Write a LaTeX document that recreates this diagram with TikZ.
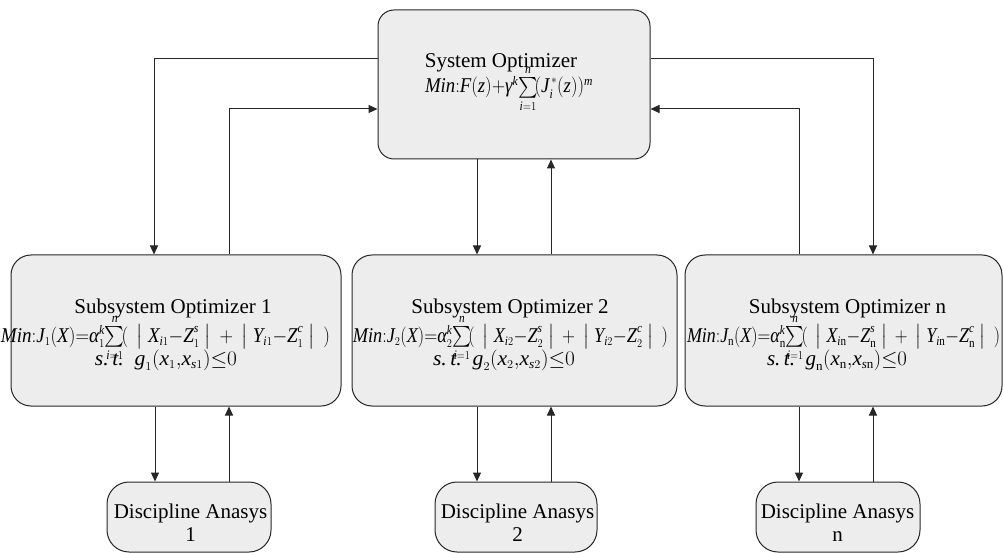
\documentclass[tikz,border=0pt]{standalone}
\usepackage{amsmath}
\usepackage{graphicx}
\usepackage{fontspec}
\setmainfont{Liberation Serif}
\usetikzlibrary{arrows.meta}

% smaller scripts for the 21pt formulas
\DeclareMathSizes{21}{21}{13}{10}

% italic letters set in the text face, usable inside formulas
\newcommand{\vi}[1]{\textit{#1}}
\newcommand{\rn}{\mathrm{n}}
% a formula squeezed to a given width, its height kept
\newcommand{\fitw}[2]{\resizebox{#1}{\height}{$#2$}}
% the bracket of absolute deviations in the subsystem objectives
\newcommand{\devs}[2]{(\,\;\bigl|\;\vi{X}_{#1}{-}\vi{Z}_{#2}^{\vi{s}}\;\bigr|\,\;{+}\;\,\bigl|\;\vi{Y}_{#1}{-}\vi{Z}_{#2}^{\vi{c}}\;\bigr|\;\,)}

\tikzset{
  box/.style={draw=black!85, line width=1pt, fill=black!7, inner sep=0pt},
  sysbox/.style={box, rounded corners=16pt, minimum width=272pt, minimum height=149pt},
  subbox/.style={box, rounded corners=20pt, minimum height=151pt},
  dabox/.style={box, rounded corners=22pt, minimum width=164pt, minimum height=70pt},
  lbl/.style={inner sep=0pt, anchor=base, font=\fontsize{21}{25}\selectfont},
  link/.style={draw=black!85, line width=1pt, -{Triangle[length=9pt,width=8pt]}}
}

\begin{document}
\begin{tikzpicture}[x=1pt, y=-1pt]
\useasboundingbox (0,0) rectangle (1003,553);

% system level
\node[sysbox] (sys) at (514,84.5) {};
\node[lbl] (syst) at (501,68) {System Optimizer};
\node[lbl] (sysm) at (509,93) {\fitw{168pt}{\vi{Min}{:}\vi{F}(\vi{z}){+}\vi{γ}^{\vi{k}}\!\sum\limits_{\vi{i}=1}^{\vi{n}}\!(\vi{J}_{\vi{i}}^{\,*}(\vi{z}))^{\vi{m}}}};

% subsystem level
\node[subbox, minimum width=330pt] (sub1) at (176,330.5) {};
\node[subbox, minimum width=325pt] (sub2) at (514.5,330.5) {};
\node[subbox, minimum width=317pt] (sub3) at (843.5,330.5) {};

\node[lbl] (sub1t) at (173,313) {Subsystem Optimizer 1};
\node[lbl] (sub1m) at (165.5,342) {\fitw{329pt}{\vi{Min}{:}\vi{J}_1(\vi{X}){=}\vi{α}_1^{\vi{k}}\!\sum\limits_{\vi{i}=1}^{\vi{n}}\!\devs{\vi{i}1}{1}}};
\node[lbl] (sub1c) at (166,365) {\fitw{142pt}{\vi{s.\,t.}\ \ \vi{g}_1(\vi{x}_1{,}\vi{x}_{\vi{s}1}){\leq}0}};

\node[lbl] (sub2t) at (510,313) {Subsystem Optimizer 2};
\node[lbl] (sub2m) at (510.5,342) {\fitw{315pt}{\vi{Min}{:}\vi{J}_2(\vi{X}){=}\vi{α}_2^{\vi{k}}\!\sum\limits_{\vi{i}=1}^{\vi{n}}\!\devs{\vi{i}2}{2}}};
\node[lbl] (sub2c) at (504,365) {\fitw{142pt}{\vi{s.\,t.}\ \ \vi{g}_2(\vi{x}_2{,}\vi{x}_{\vi{s}2}){\leq}0}};

\node[lbl] (sub3t) at (847.5,313) {Subsystem Optimizer n};
\node[lbl] (sub3m) at (843.5,342) {\fitw{313pt}{\vi{Min}{:}\vi{J}_{\rn}(\vi{X}){=}\vi{α}_{\rn}^{\vi{k}}\!\sum\limits_{\vi{i}=1}^{\vi{n}}\!\devs{\vi{i}\rn}{\rn}}};
\node[lbl] (sub3c) at (837,365) {\fitw{140pt}{\vi{s.\,t.}\ \ \vi{g}_{\rn}(\vi{x}_{\rn}{,}\vi{x}_{\vi{s}\rn}){\leq}0}};

% discipline analyses
\node[dabox] (da1) at (189,517) {};
\node[dabox, minimum width=162pt] (da2) at (516,517) {};
\node[dabox] (da3) at (838,517) {};
\node[lbl] (da1a) at (190.5,518) {Discipline Anasys};
\node[lbl] (da1b) at (190.5,541) {1};
\node[lbl] (da2a) at (517.5,518) {Discipline Anasys};
\node[lbl] (da2b) at (517.5,541) {2};
\node[lbl] (da3a) at (837.5,518) {Discipline Anasys};
\node[lbl] (da3b) at (837.5,541) {n};

% system <-> subsystems
\draw[link] ([yshift=25.5pt]sys.west) -| ([xshift=-22pt]sub1.north);
\draw[link] ([xshift=53pt]sub1.north) |- ([yshift=-24.5pt]sys.west);
\draw[link] ([xshift=-37pt]sys.south) -- ([xshift=-37pt]sys.south |- sub2.north);
\draw[link] ([xshift=37pt]sys.south |- sub2.north) -- ([xshift=37pt]sys.south);
\draw[link] ([yshift=25.5pt]sys.east) -| ([xshift=29.5pt]sub3.north);
\draw[link] ([xshift=-44.5pt]sub3.north) |- ([yshift=-24.5pt]sys.east);

% subsystems <-> disciplines
\draw[link] ([xshift=-34pt]da1.north |- sub1.south) -- ([xshift=-34pt]da1.north);
\draw[link] ([xshift=40pt]da1.north) -- ([xshift=40pt]da1.north |- sub1.south);
\draw[link] ([xshift=-39pt]da2.north |- sub2.south) -- ([xshift=-39pt]da2.north);
\draw[link] ([xshift=35pt]da2.north) -- ([xshift=35pt]da2.north |- sub2.south);
\draw[link] ([xshift=-39pt]da3.north |- sub3.south) -- ([xshift=-39pt]da3.north);
\draw[link] ([xshift=35pt]da3.north) -- ([xshift=35pt]da3.north |- sub3.south);
\end{tikzpicture}
\end{document}
